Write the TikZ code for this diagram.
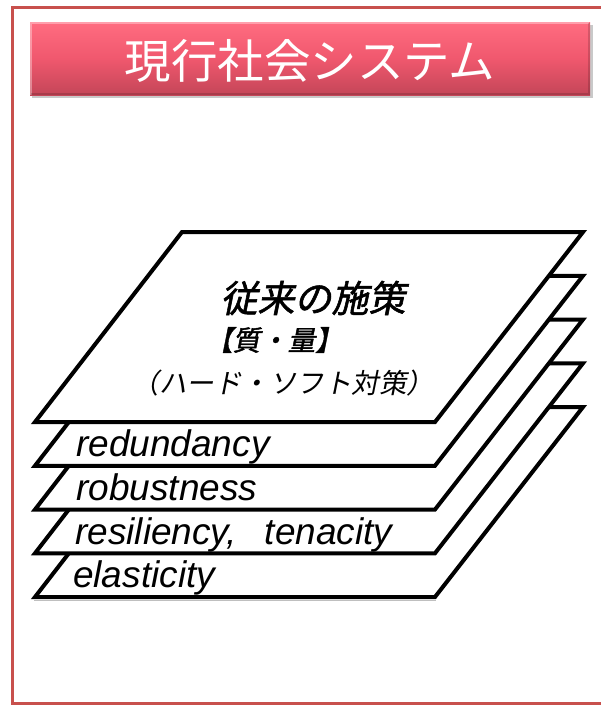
\documentclass[tikz,border=0pt]{standalone}
\usepackage{fontspec}
\setmainfont{Liberation Sans}
\newfontfamily\jp{Noto Sans CJK JP}
\newfontfamily\jpsl[FakeSlant=0.2]{Noto Sans CJK JP}
\newfontfamily\jpbsl[FakeSlant=0.2,FakeBold=1.5]{Noto Sans CJK JP}
\usetikzlibrary{shadows}
\definecolor{framered}{RGB}{200,80,77}
\definecolor{titletop}{RGB}{255,108,128}
\definecolor{titlemid}{RGB}{240,88,110}
\definecolor{titlebot}{RGB}{196,70,88}
\tikzset{
  layer/.style={draw=black, fill=white, line width=4pt},
  lbl/.style={anchor=base west, inner sep=0pt, font=\fontsize{37}{40}\selectfont\itshape},
}
\begin{document}
\begin{tikzpicture}[x=1pt,y=-1pt]
\useasboundingbox (0,0) rectangle (601,705);
\fill[white] (0,0) rectangle (601,705);
% outer frame
\draw[framered, line width=3.5pt] (12.5,7.5) rectangle (640,703.5);
% title bar
\fill[black!35, opacity=0.6] (32,25) rectangle (593,98);
\shade[top color=titletop, bottom color=titlebot, middle color=titlemid] (30,22) rectangle (590,95);
\draw[white, opacity=0.35, line width=1.5pt] (31,95) -- (31,23) -- (589,23);
\draw[black, opacity=0.15, line width=1.5pt] (31,94) -- (589,94) -- (589,23);
\node[text=white, font=\jp\fontsize{46.5}{50}\selectfont, inner sep=0pt] (title) at (310,61) {現行社会システム};
% faint shadow line
\draw[black!25, line width=1pt] (34,600.5) -- (436,600.5);
% layers, bottom first
\foreach \k in {4,3,2,1,0}{
  \draw[layer] (35,{422+43.75*\k}) -- (435,{422+43.75*\k}) -- (583,{232+43.75*\k}) -- (182,{232+43.75*\k}) -- cycle;
}
\node[font=\jpbsl\fontsize{37}{40}\selectfont, inner sep=0pt] (main) at (313,298) {従来の施策};
\node[font=\jpbsl\fontsize{27.5}{30}\selectfont, inner sep=0pt] (qq) at (274,340) {【質・量】};
\node[font=\jpsl\fontsize{27.5}{30}\selectfont, inner sep=0pt] (hs) at (283,383) {（ハード・ソフト対策）};
\node[lbl] (l1) at (76,456) {redundancy};
\node[lbl] (l2) at (76,500) {robustness};
\node[lbl] (l3) at (75,544) {resiliency,\hspace{28pt}tenacity};
\node[lbl] (l4) at (73,587) {elasticity};
\end{tikzpicture}
\end{document}
